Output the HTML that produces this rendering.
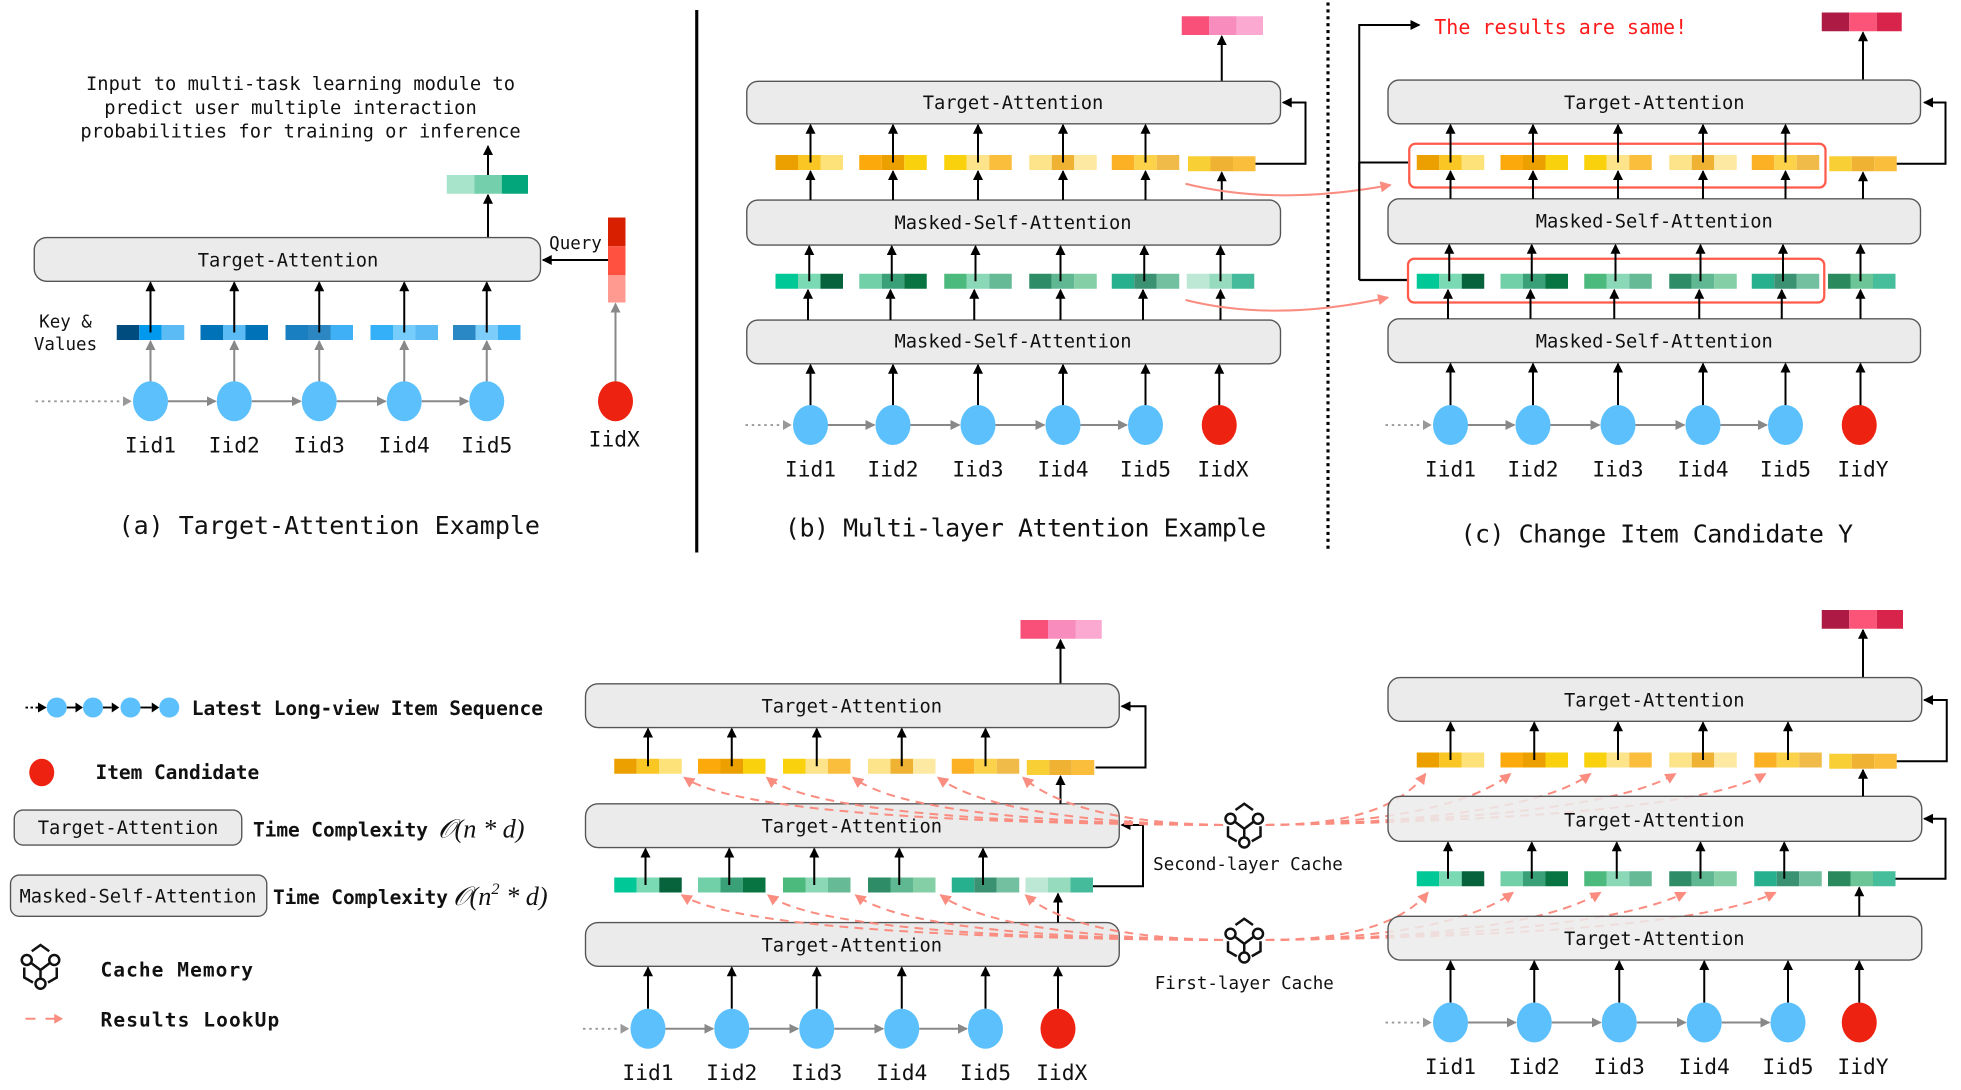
<!DOCTYPE html>
<html><head><meta charset="utf-8"><style>
html,body{margin:0;padding:0;background:#fff}
svg{display:block}
text{font-family:"DejaVu Sans Mono","Liberation Mono",monospace;fill:#111}
.bl{font-size:15px;text-anchor:middle}
.lb{font-size:17px;text-anchor:middle}
.cap{font-size:20px;text-anchor:middle}
.bx{fill:#ebebeb;stroke:#555;stroke-width:1.1}
.ar{stroke:#000;stroke-width:1.6;fill:none;marker-end:url(#ak)}
.ag{stroke:#888;stroke-width:1.6;fill:none;marker-end:url(#ag)}
.dt{stroke:#999;stroke-width:1.5;stroke-dasharray:2 3;fill:none}
.pk{stroke:#fa8c80;stroke-width:1.6;fill:none;stroke-dasharray:7 5;marker-end:url(#ap)}
.ps{stroke:#fa8c80;stroke-width:1.6;fill:none;marker-end:url(#ap)}
.ln{stroke:#000;stroke-width:1.8;fill:none}
.c{fill:#5bc0fb}.r{fill:#ee2211}
.bold{font-weight:bold;font-size:15.6px}
.m{font-family:"Liberation Serif",serif;font-style:italic;font-size:21px}
</style></head><body>
<svg width="1961" height="1090" viewBox="0 0 1568 872" xmlns="http://www.w3.org/2000/svg">
<defs>
<marker id="ak" markerWidth="8" markerHeight="8" refX="7" refY="4" orient="auto" markerUnits="userSpaceOnUse"><path d="M0,0 L8,4 L0,8 z" fill="#000"/></marker>
<marker id="ag" markerWidth="8" markerHeight="8" refX="7" refY="4" orient="auto" markerUnits="userSpaceOnUse"><path d="M0,0 L8,4 L0,8 z" fill="#888"/></marker>
<marker id="ap" markerWidth="9" markerHeight="9" refX="8" refY="4.5" orient="auto" markerUnits="userSpaceOnUse"><path d="M0,0 L9,4.5 L0,9 z" fill="#fa8c80"/></marker>
<g id="cache" fill="none" stroke="#111" stroke-width="2">
<path d="M-7,-12 L0,-17 L7,-12"/>
<circle cx="-11" cy="-5" r="4" fill="#fff"/><circle cx="11" cy="-5" r="4" fill="#fff"/><circle cx="0" cy="14" r="4" fill="#fff"/>
<path d="M-8,-3 L0,3 L8,-3 M0,3 L0,10 M-13,1 L-13,9 L-6,13 M13,1 L13,9 L6,13"/>
</g>
</defs>

<!-- ================= (a) ================= -->
<text x="240" y="72" class="bl">Input to multi-task learning module to</text>
<text x="232" y="91" class="bl">predict  user multiple interaction</text>
<text x="240" y="110" class="bl">probabilities for training or inference</text>
<rect x="357" y="140" width="22" height="15" fill="#a8e3cc"/><rect x="379" y="140" width="22" height="15" fill="#74d0ac"/><rect x="401" y="140" width="21" height="15" fill="#03a67a"/>
<line x1="390" y1="140" x2="390" y2="117" class="ar"/>
<line x1="390" y1="190" x2="390" y2="156" class="ar"/>
<rect x="27" y="190" width="405" height="35" rx="10" class="bx"/>
<text x="230" y="213" class="bl">Target-Attention</text>
<text x="460" y="199" style="font-size:14px;text-anchor:middle">Query</text>
<rect x="486" y="174" width="14" height="23" fill="#d82000"/><rect x="486" y="197" width="14" height="23" fill="#ff5040"/><rect x="486" y="220" width="14" height="22" fill="#ff9a90"/>
<line x1="486" y1="208" x2="434" y2="208" class="ar"/>
<text x="52" y="262" style="font-size:14px;text-anchor:middle">Key &amp;</text>
<text x="52" y="280" style="font-size:14px;text-anchor:middle">Values</text>
<g>
<rect x="93" y="260" width="18" height="12" fill="#004c7f"/><rect x="111" y="260" width="18" height="12" fill="#0099ee"/><rect x="129" y="260" width="18" height="12" fill="#5bbcf5"/>
<rect x="160" y="260" width="18" height="12" fill="#0072b8"/><rect x="178" y="260" width="18" height="12" fill="#5bbcf5"/><rect x="196" y="260" width="18" height="12" fill="#0072b8"/>
<rect x="228" y="260" width="18" height="12" fill="#1a7fc0"/><rect x="246" y="260" width="18" height="12" fill="#2c86c1"/><rect x="264" y="260" width="18" height="12" fill="#3fb0f5"/>
<rect x="296" y="260" width="18" height="12" fill="#33b0f8"/><rect x="314" y="260" width="18" height="12" fill="#76ccfb"/><rect x="332" y="260" width="18" height="12" fill="#5bbcf5"/>
<rect x="362" y="260" width="18" height="12" fill="#2a88c5"/><rect x="380" y="260" width="18" height="12" fill="#7dcdfb"/><rect x="398" y="260" width="18" height="12" fill="#3cb0f5"/>
</g>
<line x1="120" y1="266" x2="120" y2="226" class="ar"/><line x1="187" y1="266" x2="187" y2="226" class="ar"/><line x1="255" y1="266" x2="255" y2="226" class="ar"/><line x1="323" y1="266" x2="323" y2="226" class="ar"/><line x1="389" y1="266" x2="389" y2="226" class="ar"/>
<line x1="120" y1="306" x2="120" y2="273" class="ag"/><line x1="187" y1="306" x2="187" y2="273" class="ag"/><line x1="255" y1="306" x2="255" y2="273" class="ag"/><line x1="323" y1="306" x2="323" y2="273" class="ag"/><line x1="389" y1="306" x2="389" y2="273" class="ag"/>
<line x1="492" y1="306" x2="492" y2="243" class="ag"/>
<line x1="28" y1="321" x2="98" y2="321" class="dt"/><path d="M98,317 L105,321 L98,325z" fill="#999"/>
<line x1="134" y1="321" x2="172" y2="321" class="ag"/><line x1="201" y1="321" x2="240" y2="321" class="ag"/><line x1="269" y1="321" x2="308" y2="321" class="ag"/><line x1="337" y1="321" x2="374" y2="321" class="ag"/>
<ellipse cx="120" cy="321" rx="14" ry="16" class="c"/><ellipse cx="187" cy="321" rx="14" ry="16" class="c"/><ellipse cx="255" cy="321" rx="14" ry="16" class="c"/><ellipse cx="323" cy="321" rx="14" ry="16" class="c"/><ellipse cx="389" cy="321" rx="14" ry="16" class="c"/>
<ellipse cx="492" cy="321" rx="14" ry="16" class="r"/>
<text x="120" y="362" class="lb">Iid1</text><text x="187" y="362" class="lb">Iid2</text><text x="255" y="362" class="lb">Iid3</text><text x="323" y="362" class="lb">Iid4</text><text x="389" y="362" class="lb">Iid5</text><text x="491" y="357" class="lb">IidX</text>
<text x="263" y="427" class="cap">(a) Target-Attention Example</text>

<line x1="557" y1="8" x2="557" y2="442" stroke="#000" stroke-width="2.5"/>
<line x1="1062" y1="2" x2="1062" y2="442" stroke="#000" stroke-width="2.5" stroke-dasharray="2.5 3"/>

<!-- ================= (b) ================= -->
<rect x="945" y="13" width="22" height="15" fill="#f9507a"/><rect x="967" y="13" width="22" height="15" fill="#f78cbd"/><rect x="989" y="13" width="21" height="15" fill="#fba9d0"/>
<line x1="977" y1="65" x2="977" y2="29" class="ar"/>
<rect x="597" y="65" width="427" height="34" rx="9" class="bx"/><text x="810" y="87" class="bl">Target-Attention</text>
<rect x="597" y="160" width="427" height="36" rx="9" class="bx"/><text x="810" y="183" class="bl">Masked-Self-Attention</text>
<rect x="597" y="256" width="427" height="35" rx="9" class="bx"/><text x="810" y="278" class="bl">Masked-Self-Attention</text>
<rect x="620" y="124" width="18" height="12" fill="#eba000"/><rect x="638" y="124" width="18" height="12" fill="#f9c623"/><rect x="656" y="124" width="18" height="12" fill="#fde27a"/>
<rect x="687" y="124" width="18" height="12" fill="#fca90c"/><rect x="705" y="124" width="18" height="12" fill="#eba000"/><rect x="723" y="124" width="18" height="12" fill="#f9d10c"/>
<rect x="755" y="124" width="18" height="12" fill="#f9d10c"/><rect x="773" y="124" width="18" height="12" fill="#fde48a"/><rect x="791" y="124" width="18" height="12" fill="#fbbd3c"/>
<rect x="823" y="124" width="18" height="12" fill="#fde48a"/><rect x="841" y="124" width="18" height="12" fill="#f0b232"/><rect x="859" y="124" width="18" height="12" fill="#fde9a2"/>
<rect x="889" y="124" width="18" height="12" fill="#fcb023"/><rect x="907" y="124" width="18" height="12" fill="#fbd24a"/><rect x="925" y="124" width="18" height="12" fill="#f0bb48"/>
<rect x="950" y="125" width="18" height="12" fill="#f9cf36"/><rect x="968" y="125" width="18" height="12" fill="#f0b232"/><rect x="986" y="125" width="18" height="12" fill="#fbbd3c"/>
<rect x="620" y="219" width="18" height="12" fill="#00c896"/><rect x="638" y="219" width="18" height="12" fill="#79dab3"/><rect x="656" y="219" width="18" height="12" fill="#07633b"/>
<rect x="687" y="219" width="18" height="12" fill="#72d0a8"/><rect x="705" y="219" width="18" height="12" fill="#3aa078"/><rect x="723" y="219" width="18" height="12" fill="#087442"/>
<rect x="755" y="219" width="18" height="12" fill="#4cb97d"/><rect x="773" y="219" width="18" height="12" fill="#8ad8b5"/><rect x="791" y="219" width="18" height="12" fill="#67ba96"/>
<rect x="823" y="219" width="18" height="12" fill="#2e8c66"/><rect x="841" y="219" width="18" height="12" fill="#60b892"/><rect x="859" y="219" width="18" height="12" fill="#84cfa5"/>
<rect x="889" y="219" width="18" height="12" fill="#27b08e"/><rect x="907" y="219" width="18" height="12" fill="#3a9272"/><rect x="925" y="219" width="18" height="12" fill="#72c09f"/>
<rect x="949" y="219" width="18" height="12" fill="#bde8d5"/><rect x="967" y="219" width="18" height="12" fill="#97dbbf"/><rect x="985" y="219" width="18" height="12" fill="#45bb9b"/>
<g>
<line x1="648" y1="130" x2="648" y2="100" class="ar"/><line x1="714" y1="130" x2="714" y2="100" class="ar"/><line x1="782" y1="130" x2="782" y2="100" class="ar"/><line x1="850" y1="130" x2="850" y2="100" class="ar"/><line x1="916" y1="130" x2="916" y2="100" class="ar"/>
<line x1="648" y1="160" x2="648" y2="137" class="ar"/><line x1="714" y1="160" x2="714" y2="137" class="ar"/><line x1="782" y1="160" x2="782" y2="137" class="ar"/><line x1="850" y1="160" x2="850" y2="137" class="ar"/><line x1="916" y1="160" x2="916" y2="137" class="ar"/><line x1="977" y1="160" x2="977" y2="138" class="ar"/>
<line x1="647" y1="225" x2="647" y2="197" class="ar"/><line x1="713" y1="225" x2="713" y2="197" class="ar"/><line x1="780" y1="225" x2="780" y2="197" class="ar"/><line x1="848" y1="225" x2="848" y2="197" class="ar"/><line x1="915" y1="225" x2="915" y2="197" class="ar"/><line x1="976" y1="225" x2="976" y2="197" class="ar"/>
<line x1="646" y1="256" x2="646" y2="232" class="ar"/><line x1="712" y1="256" x2="712" y2="232" class="ar"/><line x1="779" y1="256" x2="779" y2="232" class="ar"/><line x1="848" y1="256" x2="848" y2="232" class="ar"/><line x1="914" y1="256" x2="914" y2="232" class="ar"/><line x1="976" y1="256" x2="976" y2="232" class="ar"/>
<line x1="648" y1="325" x2="648" y2="292" class="ar"/><line x1="714" y1="325" x2="714" y2="292" class="ar"/><line x1="782" y1="325" x2="782" y2="292" class="ar"/><line x1="850" y1="325" x2="850" y2="292" class="ar"/><line x1="916" y1="325" x2="916" y2="292" class="ar"/><line x1="975" y1="325" x2="975" y2="292" class="ar"/>
</g>
<path d="M1004,131 L1044,131 L1044,82 L1026,82" class="ar"/>
<path d="M948,147 Q1020,165 1112,148" class="ps"/>
<path d="M948,240 Q1020,258 1110,238" class="ps"/>
<line x1="596" y1="340" x2="626" y2="340" class="dt"/><path d="M626,336 L633,340 L626,344z" fill="#999"/>
<line x1="662" y1="340" x2="699" y2="340" class="ag"/><line x1="728" y1="340" x2="767" y2="340" class="ag"/><line x1="796" y1="340" x2="835" y2="340" class="ag"/><line x1="864" y1="340" x2="901" y2="340" class="ag"/>
<ellipse cx="648" cy="340" rx="14" ry="16" class="c"/><ellipse cx="714" cy="340" rx="14" ry="16" class="c"/><ellipse cx="782" cy="340" rx="14" ry="16" class="c"/><ellipse cx="850" cy="340" rx="14" ry="16" class="c"/><ellipse cx="916" cy="340" rx="14" ry="16" class="c"/><ellipse cx="975" cy="340" rx="14" ry="16" class="r"/>
<text x="648" y="381" class="lb">Iid1</text><text x="714" y="381" class="lb">Iid2</text><text x="782" y="381" class="lb">Iid3</text><text x="850" y="381" class="lb">Iid4</text><text x="916" y="381" class="lb">Iid5</text><text x="978" y="381" class="lb">IidX</text>
<text x="820" y="429" class="cap" textLength="385">(b) Multi-layer Attention Example</text>

<!-- ================= (c) ================= -->
<text x="1147" y="27" style="font-size:16px;fill:#ff1a1a">The results are same!</text>
<rect x="1457" y="10" width="22" height="15" fill="#ad1b44"/><rect x="1479" y="10" width="22" height="15" fill="#fc5379"/><rect x="1501" y="10" width="20" height="15" fill="#d8244a"/>
<line x1="1490" y1="64" x2="1490" y2="26" class="ar"/>
<path d="M1126,130 L1087,130 L1087,20 L1135,20" class="ar"/>
<line x1="1087" y1="130" x2="1087" y2="224" class="ln"/><line x1="1087" y1="224" x2="1126" y2="224" class="ln"/>
<rect x="1110" y="64" width="426" height="35" rx="9" class="bx"/><text x="1323" y="87" class="bl">Target-Attention</text>
<rect x="1110" y="159" width="426" height="36" rx="9" class="bx"/><text x="1323" y="182" class="bl">Masked-Self-Attention</text>
<rect x="1110" y="255" width="426" height="35" rx="9" class="bx"/><text x="1323" y="278" class="bl">Masked-Self-Attention</text>
<rect x="1133" y="124" width="18" height="12" fill="#eba000"/><rect x="1151" y="124" width="18" height="12" fill="#f9c623"/><rect x="1169" y="124" width="18" height="12" fill="#fde27a"/>
<rect x="1200" y="124" width="18" height="12" fill="#fca90c"/><rect x="1218" y="124" width="18" height="12" fill="#eba000"/><rect x="1236" y="124" width="18" height="12" fill="#f9d10c"/>
<rect x="1267" y="124" width="18" height="12" fill="#f9d10c"/><rect x="1285" y="124" width="18" height="12" fill="#fde48a"/><rect x="1303" y="124" width="18" height="12" fill="#fbbd3c"/>
<rect x="1335" y="124" width="18" height="12" fill="#fde48a"/><rect x="1353" y="124" width="18" height="12" fill="#f0b232"/><rect x="1371" y="124" width="18" height="12" fill="#fde9a2"/>
<rect x="1401" y="124" width="18" height="12" fill="#fcb023"/><rect x="1419" y="124" width="18" height="12" fill="#fbd24a"/><rect x="1437" y="124" width="18" height="12" fill="#f0bb48"/>
<rect x="1463" y="125" width="18" height="12" fill="#f9cf36"/><rect x="1481" y="125" width="18" height="12" fill="#f0b232"/><rect x="1499" y="125" width="18" height="12" fill="#fbbd3c"/>
<rect x="1133" y="219" width="18" height="12" fill="#00c896"/><rect x="1151" y="219" width="18" height="12" fill="#79dab3"/><rect x="1169" y="219" width="18" height="12" fill="#07633b"/>
<rect x="1200" y="219" width="18" height="12" fill="#72d0a8"/><rect x="1218" y="219" width="18" height="12" fill="#3aa078"/><rect x="1236" y="219" width="18" height="12" fill="#087442"/>
<rect x="1267" y="219" width="18" height="12" fill="#4cb97d"/><rect x="1285" y="219" width="18" height="12" fill="#8ad8b5"/><rect x="1303" y="219" width="18" height="12" fill="#67ba96"/>
<rect x="1335" y="219" width="18" height="12" fill="#2e8c66"/><rect x="1353" y="219" width="18" height="12" fill="#60b892"/><rect x="1371" y="219" width="18" height="12" fill="#84cfa5"/>
<rect x="1401" y="219" width="18" height="12" fill="#27b08e"/><rect x="1419" y="219" width="18" height="12" fill="#3a9272"/><rect x="1437" y="219" width="18" height="12" fill="#72c09f"/>
<rect x="1462" y="219" width="18" height="12" fill="#2a8a5d"/><rect x="1480" y="219" width="18" height="12" fill="#6cc597"/><rect x="1498" y="219" width="18" height="12" fill="#46bd9b"/>
<rect x="1127" y="115" width="333" height="35" rx="5" fill="none" stroke="#ff5a4a" stroke-width="1.8"/>
<rect x="1126" y="207" width="333" height="35" rx="5" fill="none" stroke="#ff5a4a" stroke-width="1.8"/>
<line x1="1160" y1="130" x2="1160" y2="100" class="ar"/><line x1="1226" y1="130" x2="1226" y2="100" class="ar"/><line x1="1294" y1="130" x2="1294" y2="100" class="ar"/><line x1="1362" y1="130" x2="1362" y2="100" class="ar"/><line x1="1428" y1="130" x2="1428" y2="100" class="ar"/>
<line x1="1160" y1="159" x2="1160" y2="137" class="ar"/><line x1="1226" y1="159" x2="1226" y2="137" class="ar"/><line x1="1294" y1="159" x2="1294" y2="137" class="ar"/><line x1="1362" y1="159" x2="1362" y2="137" class="ar"/><line x1="1428" y1="159" x2="1428" y2="137" class="ar"/><line x1="1490" y1="159" x2="1490" y2="138" class="ar"/>
<line x1="1159" y1="225" x2="1159" y2="196" class="ar"/><line x1="1225" y1="225" x2="1225" y2="196" class="ar"/><line x1="1292" y1="225" x2="1292" y2="196" class="ar"/><line x1="1360" y1="225" x2="1360" y2="196" class="ar"/><line x1="1426" y1="225" x2="1426" y2="196" class="ar"/><line x1="1488" y1="225" x2="1488" y2="196" class="ar"/>
<line x1="1158" y1="255" x2="1158" y2="232" class="ar"/><line x1="1224" y1="255" x2="1224" y2="232" class="ar"/><line x1="1291" y1="255" x2="1291" y2="232" class="ar"/><line x1="1359" y1="255" x2="1359" y2="232" class="ar"/><line x1="1425" y1="255" x2="1425" y2="232" class="ar"/><line x1="1488" y1="255" x2="1488" y2="232" class="ar"/>
<line x1="1160" y1="325" x2="1160" y2="291" class="ar"/><line x1="1226" y1="325" x2="1226" y2="291" class="ar"/><line x1="1294" y1="325" x2="1294" y2="291" class="ar"/><line x1="1362" y1="325" x2="1362" y2="291" class="ar"/><line x1="1428" y1="325" x2="1428" y2="291" class="ar"/><line x1="1488" y1="325" x2="1488" y2="291" class="ar"/>
<path d="M1517,131 L1556,131 L1556,82 L1539,82" class="ar"/>
<line x1="1108" y1="340" x2="1138" y2="340" class="dt"/><path d="M1138,336 L1145,340 L1138,344z" fill="#999"/>
<line x1="1174" y1="340" x2="1211" y2="340" class="ag"/><line x1="1240" y1="340" x2="1279" y2="340" class="ag"/><line x1="1308" y1="340" x2="1347" y2="340" class="ag"/><line x1="1376" y1="340" x2="1413" y2="340" class="ag"/>
<ellipse cx="1160" cy="340" rx="14" ry="16" class="c"/><ellipse cx="1226" cy="340" rx="14" ry="16" class="c"/><ellipse cx="1294" cy="340" rx="14" ry="16" class="c"/><ellipse cx="1362" cy="340" rx="14" ry="16" class="c"/><ellipse cx="1428" cy="340" rx="14" ry="16" class="c"/><ellipse cx="1487" cy="340" rx="14" ry="16" class="r"/>
<text x="1160" y="381" class="lb">Iid1</text><text x="1226" y="381" class="lb">Iid2</text><text x="1294" y="381" class="lb">Iid3</text><text x="1362" y="381" class="lb">Iid4</text><text x="1428" y="381" class="lb">Iid5</text><text x="1490" y="381" class="lb">IidY</text>
<text x="1325" y="434" class="cap" textLength="314">(c) Change Item Candidate Y</text>

<!-- ================= legend ================= -->
<line x1="20" y1="566" x2="30" y2="566" stroke="#000" stroke-width="1.5" stroke-dasharray="2 2"/><path d="M30,562 L37,566 L30,570z"/>
<line x1="53" y1="566" x2="60" y2="566" stroke="#000" stroke-width="1.5"/><path d="M60,562 L66,566 L60,570z"/>
<line x1="82" y1="566" x2="89" y2="566" stroke="#000" stroke-width="1.5"/><path d="M89,562 L95,566 L89,570z"/>
<line x1="112" y1="566" x2="121" y2="566" stroke="#000" stroke-width="1.5"/><path d="M121,562 L127,566 L121,570z"/>
<circle cx="45" cy="566" r="8" class="c"/><circle cx="74" cy="566" r="8" class="c"/><circle cx="104" cy="566" r="8" class="c"/><circle cx="135" cy="566" r="8" class="c"/>
<text x="153" y="572" class="bold" textLength="281">Latest Long-view Item Sequence</text>
<ellipse cx="33" cy="618" rx="10" ry="11" class="r"/>
<text x="76" y="623" class="bold" textLength="131">Item Candidate</text>
<rect x="11" y="648" width="182" height="28" rx="7" class="bx"/><text x="102" y="667" class="bl">Target-Attention</text>
<text x="202" y="669" class="bold" textLength="140">Time Complexity</text>
<text x="350" y="670" class="m">𝒪(n * d)</text>
<rect x="8" y="700" width="205" height="33" rx="7" class="bx"/><text x="110" y="722" class="bl">Masked-Self-Attention</text>
<text x="218" y="723" class="bold" textLength="140">Time Complexity</text>
<text x="362" y="724" class="m">𝒪(n<tspan dy="-9" font-size="13">2</tspan><tspan dy="9"> * d)</tspan></text>
<use href="#cache" x="32" y="773"/>
<text x="80" y="781" class="bold" textLength="122">Cache Memory</text>
<line x1="20" y1="815" x2="28" y2="815" stroke="#fa8c80" stroke-width="1.6"/><line x1="36" y1="815" x2="44" y2="815" stroke="#fa8c80" stroke-width="1.6"/><path d="M43,811 L50,815 L43,819z" fill="#fa8c80"/>
<text x="80" y="821" class="bold" textLength="143">Results LookUp</text>

<!-- ================= bottom middle ================= -->
<rect x="816" y="496" width="22" height="15" fill="#f9507a"/><rect x="838" y="496" width="22" height="15" fill="#f78cbd"/><rect x="860" y="496" width="21" height="15" fill="#fba9d0"/>
<line x1="848" y1="547" x2="848" y2="512" class="ar"/>
<rect x="468" y="547" width="427" height="35" rx="10" class="bx"/><text x="681" y="570" class="bl">Target-Attention</text>
<rect x="468" y="643" width="427" height="35" rx="10" class="bx"/><text x="681" y="666" class="bl">Target-Attention</text>
<rect x="468" y="738" width="427" height="35" rx="10" class="bx"/><text x="681" y="761" class="bl">Target-Attention</text>
<rect x="491" y="607" width="18" height="12" fill="#eba000"/><rect x="509" y="607" width="18" height="12" fill="#f9c623"/><rect x="527" y="607" width="18" height="12" fill="#fde27a"/>
<rect x="558" y="607" width="18" height="12" fill="#fca90c"/><rect x="576" y="607" width="18" height="12" fill="#eba000"/><rect x="594" y="607" width="18" height="12" fill="#f9d10c"/>
<rect x="626" y="607" width="18" height="12" fill="#f9d10c"/><rect x="644" y="607" width="18" height="12" fill="#fde48a"/><rect x="662" y="607" width="18" height="12" fill="#fbbd3c"/>
<rect x="694" y="607" width="18" height="12" fill="#fde48a"/><rect x="712" y="607" width="18" height="12" fill="#f0b232"/><rect x="730" y="607" width="18" height="12" fill="#fde9a2"/>
<rect x="761" y="607" width="18" height="12" fill="#fcb023"/><rect x="779" y="607" width="18" height="12" fill="#fbd24a"/><rect x="797" y="607" width="18" height="12" fill="#f0bb48"/>
<rect x="821" y="608" width="18" height="12" fill="#f9cf36"/><rect x="839" y="608" width="18" height="12" fill="#f0b232"/><rect x="857" y="608" width="18" height="12" fill="#fbbd3c"/>
<rect x="491" y="702" width="18" height="12" fill="#00c896"/><rect x="509" y="702" width="18" height="12" fill="#79dab3"/><rect x="527" y="702" width="18" height="12" fill="#07633b"/>
<rect x="558" y="702" width="18" height="12" fill="#72d0a8"/><rect x="576" y="702" width="18" height="12" fill="#3aa078"/><rect x="594" y="702" width="18" height="12" fill="#087442"/>
<rect x="626" y="702" width="18" height="12" fill="#4cb97d"/><rect x="644" y="702" width="18" height="12" fill="#8ad8b5"/><rect x="662" y="702" width="18" height="12" fill="#67ba96"/>
<rect x="694" y="702" width="18" height="12" fill="#2e8c66"/><rect x="712" y="702" width="18" height="12" fill="#60b892"/><rect x="730" y="702" width="18" height="12" fill="#84cfa5"/>
<rect x="761" y="702" width="18" height="12" fill="#27b08e"/><rect x="779" y="702" width="18" height="12" fill="#3a9272"/><rect x="797" y="702" width="18" height="12" fill="#72c09f"/>
<rect x="820" y="702" width="18" height="12" fill="#bde8d5"/><rect x="838" y="702" width="18" height="12" fill="#97dbbf"/><rect x="856" y="702" width="18" height="12" fill="#45bb9b"/>
<line x1="518" y1="613" x2="518" y2="583" class="ar"/><line x1="585" y1="613" x2="585" y2="583" class="ar"/><line x1="653" y1="613" x2="653" y2="583" class="ar"/><line x1="721" y1="613" x2="721" y2="583" class="ar"/><line x1="788" y1="613" x2="788" y2="583" class="ar"/>
<line x1="848" y1="643" x2="848" y2="621" class="ar"/>
<line x1="516" y1="708" x2="516" y2="679" class="ar"/><line x1="583" y1="708" x2="583" y2="679" class="ar"/><line x1="651" y1="708" x2="651" y2="679" class="ar"/><line x1="719" y1="708" x2="719" y2="679" class="ar"/><line x1="786" y1="708" x2="786" y2="679" class="ar"/>
<line x1="846" y1="738" x2="846" y2="715" class="ar"/>
<line x1="518" y1="807" x2="518" y2="774" class="ar"/><line x1="585" y1="807" x2="585" y2="774" class="ar"/><line x1="653" y1="807" x2="653" y2="774" class="ar"/><line x1="721" y1="807" x2="721" y2="774" class="ar"/><line x1="788" y1="807" x2="788" y2="774" class="ar"/><line x1="846" y1="807" x2="846" y2="774" class="ar"/>
<path d="M876,614 L916,614 L916,565 L897,565" class="ar"/>
<path d="M874,709 L914,709 L914,660 L897,660" class="ar"/>
<line x1="466" y1="823" x2="496" y2="823" class="dt"/><path d="M496,819 L503,823 L496,827z" fill="#999"/>
<line x1="532" y1="823" x2="570" y2="823" class="ag"/><line x1="599" y1="823" x2="638" y2="823" class="ag"/><line x1="667" y1="823" x2="706" y2="823" class="ag"/><line x1="735" y1="823" x2="773" y2="823" class="ag"/>
<ellipse cx="518" cy="823" rx="14" ry="16" class="c"/><ellipse cx="585" cy="823" rx="14" ry="16" class="c"/><ellipse cx="653" cy="823" rx="14" ry="16" class="c"/><ellipse cx="721" cy="823" rx="14" ry="16" class="c"/><ellipse cx="788" cy="823" rx="14" ry="16" class="c"/><ellipse cx="846" cy="823" rx="14" ry="16" class="r"/>
<text x="518" y="864" class="lb">Iid1</text><text x="585" y="864" class="lb">Iid2</text><text x="653" y="864" class="lb">Iid3</text><text x="721" y="864" class="lb">Iid4</text><text x="788" y="864" class="lb">Iid5</text><text x="849" y="864" class="lb">IidX</text>

<!-- caches -->
<use href="#cache" x="995" y="660"/>
<use href="#cache" x="995" y="752"/>
<text x="998" y="696" style="font-size:14px;text-anchor:middle">Second-layer Cache</text>
<text x="995" y="791" style="font-size:14px;text-anchor:middle">First-layer Cache</text>

<path d="M978,660 Q600,658 547,622" class="pk"/>
<path d="M978,660 Q660,658 613,622" class="pk"/>
<path d="M978,660 Q730,658 682,622" class="pk"/>
<path d="M978,660 Q800,658 750,622" class="pk"/>
<path d="M978,660 Q860,658 818,622" class="pk"/>
<path d="M978,752 Q600,750 545,716" class="pk"/>
<path d="M978,752 Q660,750 614,716" class="pk"/>
<path d="M978,752 Q730,750 684,716" class="pk"/>
<path d="M978,752 Q800,750 752,716" class="pk"/>
<path d="M978,752 Q860,750 820,716" class="pk"/>
<path d="M1012,660 Q1110,660 1140,619" class="pk"/>
<path d="M1012,660 Q1160,657 1208,619" class="pk"/>
<path d="M1012,660 Q1220,657 1272,619" class="pk"/>
<path d="M1012,660 Q1280,655 1340,619" class="pk"/>
<path d="M1012,660 Q1350,655 1412,619" class="pk"/>
<path d="M1012,752 Q1110,752 1142,714" class="pk"/>
<path d="M1012,752 Q1160,750 1210,714" class="pk"/>
<path d="M1012,752 Q1220,750 1280,714" class="pk"/>
<path d="M1012,752 Q1280,748 1348,714" class="pk"/>
<path d="M1012,752 Q1350,748 1420,714" class="pk"/>

<!-- ================= bottom right ================= -->
<rect x="1457" y="488" width="22" height="15" fill="#ad1b44"/><rect x="1479" y="488" width="22" height="15" fill="#fc5379"/><rect x="1501" y="488" width="21" height="15" fill="#d8244a"/>
<line x1="1490" y1="542" x2="1490" y2="504" class="ar"/>
<rect x="1110" y="542" width="427" height="35" rx="10" class="bx"/><text x="1323" y="565" class="bl">Target-Attention</text>
<rect x="1110" y="637" width="427" height="36" rx="10" class="bx" style="fill-opacity:0.85"/><text x="1323" y="661" class="bl">Target-Attention</text>
<rect x="1110" y="733" width="427" height="35" rx="10" class="bx" style="fill-opacity:0.85"/><text x="1323" y="756" class="bl">Target-Attention</text>
<rect x="1133" y="602" width="18" height="12" fill="#eba000"/><rect x="1151" y="602" width="18" height="12" fill="#f9c623"/><rect x="1169" y="602" width="18" height="12" fill="#fde27a"/>
<rect x="1200" y="602" width="18" height="12" fill="#fca90c"/><rect x="1218" y="602" width="18" height="12" fill="#eba000"/><rect x="1236" y="602" width="18" height="12" fill="#f9d10c"/>
<rect x="1267" y="602" width="18" height="12" fill="#f9d10c"/><rect x="1285" y="602" width="18" height="12" fill="#fde48a"/><rect x="1303" y="602" width="18" height="12" fill="#fbbd3c"/>
<rect x="1335" y="602" width="18" height="12" fill="#fde48a"/><rect x="1353" y="602" width="18" height="12" fill="#f0b232"/><rect x="1371" y="602" width="18" height="12" fill="#fde9a2"/>
<rect x="1403" y="602" width="18" height="12" fill="#fcb023"/><rect x="1421" y="602" width="18" height="12" fill="#fbd24a"/><rect x="1439" y="602" width="18" height="12" fill="#f0bb48"/>
<rect x="1463" y="603" width="18" height="12" fill="#f9cf36"/><rect x="1481" y="603" width="18" height="12" fill="#f0b232"/><rect x="1499" y="603" width="18" height="12" fill="#fbbd3c"/>
<rect x="1133" y="697" width="18" height="12" fill="#00c896"/><rect x="1151" y="697" width="18" height="12" fill="#79dab3"/><rect x="1169" y="697" width="18" height="12" fill="#07633b"/>
<rect x="1200" y="697" width="18" height="12" fill="#72d0a8"/><rect x="1218" y="697" width="18" height="12" fill="#3aa078"/><rect x="1236" y="697" width="18" height="12" fill="#087442"/>
<rect x="1267" y="697" width="18" height="12" fill="#4cb97d"/><rect x="1285" y="697" width="18" height="12" fill="#8ad8b5"/><rect x="1303" y="697" width="18" height="12" fill="#67ba96"/>
<rect x="1335" y="697" width="18" height="12" fill="#2e8c66"/><rect x="1353" y="697" width="18" height="12" fill="#60b892"/><rect x="1371" y="697" width="18" height="12" fill="#84cfa5"/>
<rect x="1403" y="697" width="18" height="12" fill="#27b08e"/><rect x="1421" y="697" width="18" height="12" fill="#3a9272"/><rect x="1439" y="697" width="18" height="12" fill="#72c09f"/>
<rect x="1462" y="697" width="18" height="12" fill="#2a8a5d"/><rect x="1480" y="697" width="18" height="12" fill="#6cc597"/><rect x="1498" y="697" width="18" height="12" fill="#46bd9b"/>
<line x1="1160" y1="608" x2="1160" y2="578" class="ar"/><line x1="1227" y1="608" x2="1227" y2="578" class="ar"/><line x1="1294" y1="608" x2="1294" y2="578" class="ar"/><line x1="1362" y1="608" x2="1362" y2="578" class="ar"/><line x1="1430" y1="608" x2="1430" y2="578" class="ar"/>
<line x1="1490" y1="637" x2="1490" y2="616" class="ar"/>
<line x1="1158" y1="703" x2="1158" y2="674" class="ar"/><line x1="1225" y1="703" x2="1225" y2="674" class="ar"/><line x1="1293" y1="703" x2="1293" y2="674" class="ar"/><line x1="1360" y1="703" x2="1360" y2="674" class="ar"/><line x1="1427" y1="703" x2="1427" y2="674" class="ar"/>
<line x1="1487" y1="733" x2="1487" y2="710" class="ar"/>
<line x1="1160" y1="802" x2="1160" y2="769" class="ar"/><line x1="1227" y1="802" x2="1227" y2="769" class="ar"/><line x1="1295" y1="802" x2="1295" y2="769" class="ar"/><line x1="1363" y1="802" x2="1363" y2="769" class="ar"/><line x1="1430" y1="802" x2="1430" y2="769" class="ar"/><line x1="1487" y1="802" x2="1487" y2="769" class="ar"/>
<path d="M1517,609 L1557,609 L1557,560 L1539,560" class="ar"/>
<path d="M1516,703 L1556,703 L1556,655 L1539,655" class="ar"/>
<line x1="1108" y1="818" x2="1138" y2="818" class="dt"/><path d="M1138,814 L1145,818 L1138,822z" fill="#999"/>
<line x1="1174" y1="818" x2="1212" y2="818" class="ag"/><line x1="1241" y1="818" x2="1280" y2="818" class="ag"/><line x1="1309" y1="818" x2="1348" y2="818" class="ag"/><line x1="1377" y1="818" x2="1415" y2="818" class="ag"/>
<ellipse cx="1160" cy="818" rx="14" ry="16" class="c"/><ellipse cx="1227" cy="818" rx="14" ry="16" class="c"/><ellipse cx="1295" cy="818" rx="14" ry="16" class="c"/><ellipse cx="1363" cy="818" rx="14" ry="16" class="c"/><ellipse cx="1430" cy="818" rx="14" ry="16" class="c"/><ellipse cx="1487" cy="818" rx="14" ry="16" class="r"/>
<text x="1160" y="859" class="lb">Iid1</text><text x="1227" y="859" class="lb">Iid2</text><text x="1295" y="859" class="lb">Iid3</text><text x="1363" y="859" class="lb">Iid4</text><text x="1430" y="859" class="lb">Iid5</text><text x="1490" y="859" class="lb">IidY</text>
</svg>
</body></html>
